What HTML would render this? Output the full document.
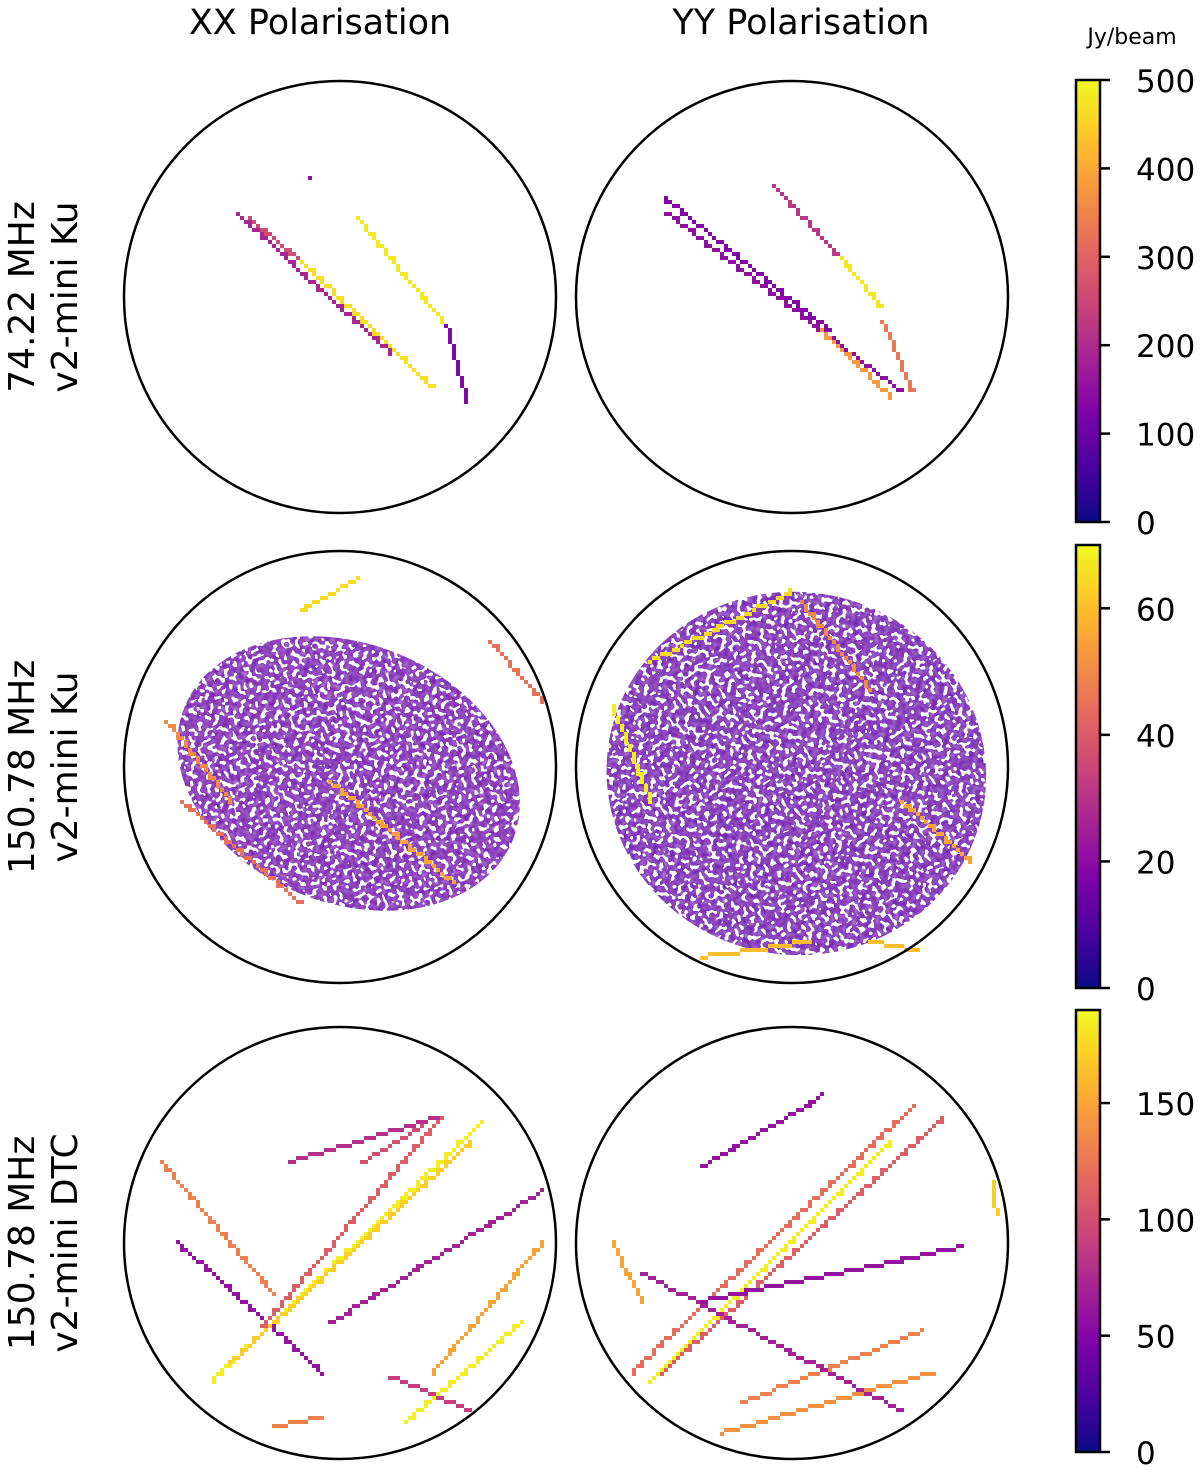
<!DOCTYPE html>
<html><head><meta charset="utf-8">
<style>
html,body{margin:0;padding:0;background:#fff;}
svg{display:block;font-family:"DejaVu Sans","Liberation Sans",sans-serif;}
</style></head>
<body>
<svg id="fig" width="1200" height="1471" viewBox="0 0 1200 1471" xmlns="http://www.w3.org/2000/svg">
<defs>
<linearGradient id="plasma" x1="0" y1="1" x2="0" y2="0">
<stop offset="0" stop-color="#0d0887"/><stop offset="0.125" stop-color="#4c02a1"/>
<stop offset="0.25" stop-color="#7e03a8"/><stop offset="0.375" stop-color="#a92395"/>
<stop offset="0.5" stop-color="#cc4778"/><stop offset="0.625" stop-color="#e56b5d"/>
<stop offset="0.75" stop-color="#f89540"/><stop offset="0.875" stop-color="#fdc527"/>
<stop offset="1" stop-color="#f0f921"/></linearGradient>
<filter id="noise" x="0" y="0" width="100%" height="100%">
<feTurbulence type="fractalNoise" baseFrequency="0.22" numOctaves="1" seed="3"/>
<feComponentTransfer><feFuncA type="discrete" tableValues="0 0 0 1 1 1 1"/></feComponentTransfer>
</filter>
<mask id="noiseMask"><rect x="0" y="0" width="1200" height="1471" fill="#fff" filter="url(#noise)"/></mask>
</defs>
<text x="320" y="34" font-size="35" text-anchor="middle">XX Polarisation</text>
<text x="801" y="34" font-size="35" text-anchor="middle">YY Polarisation</text>
<text x="1132" y="44" font-size="22" text-anchor="middle">Jy/beam</text>
<g id="panels"></g>
<g id="cbars"></g>
</svg>
<script>
// ---- data: tracks [l0, m0, l1, m1, value] in direction-cosine coordinates ----
const rowLabels = [["74.22 MHz","v2-mini Ku"],["150.78 MHz","v2-mini Ku"],["150.78 MHz","v2-mini DTC"]];
const rowMax = [500, 70, 190];
const cbarTicks0 = [0,100,200,300,400,500];
const cbarTicks1 = [0,20,40,60];
const cbarTicks2 = [0,50,100,150];
const tracksR1XX = [[-0.43,0.37,-0.19,0.18,260],[-0.19,0.18,0.42,-0.41,470],[-0.49,0.40,0.23,-0.25,190],[0.07,0.38,0.49,-0.13,480],[0.49,-0.13,0.58,-0.48,130],[-0.14,0.56,-0.14,0.56,150]];
const tracksR1YY = [[-0.60,0.47,0.17,-0.15,130],[-0.59,0.40,0.50,-0.43,150],[-0.09,0.52,0.22,0.19,220],[0.22,0.19,0.41,-0.04,480],[0.13,-0.15,0.45,-0.45,380],[0.41,-0.10,0.55,-0.43,330]];
const tracksR2XX = [[-0.19,0.73,0.07,0.88,65],[-0.81,0.22,-0.51,-0.15,50],[-0.05,-0.06,0.51,-0.52,55],[-0.74,-0.15,-0.19,-0.62,45],[0.69,0.59,0.93,0.31,45]];
const tracksR2YY = [[-0.84,0.29,-0.66,-0.15,68],[-0.66,0.50,-0.01,0.82,65],[0.04,0.77,0.36,0.36,50],[-0.43,-0.87,0.08,-0.80,60],[0.36,-0.80,0.57,-0.84,60],[0.50,-0.15,0.82,-0.43,55]];
const tracksR3XX = [[-0.83,0.38,-0.32,-0.22,130],[-0.76,0.01,-0.09,-0.59,60],[-0.60,-0.63,0.65,0.57,185],[-0.51,-0.54,0.60,0.48,170],[-0.37,-0.38,0.46,0.59,110],[0.09,0.38,0.37,0.55,100],[-0.05,-0.36,0.93,0.25,70],[0.30,-0.82,0.83,-0.36,185],[0.42,-0.59,0.93,0.01,150],[0.23,-0.61,0.60,-0.77,90],[-0.32,-0.84,-0.09,-0.80,130],[-0.25,0.38,0.44,0.59,80]];
const tracksR3YY = [[-0.75,-0.59,0.55,0.64,120],[-0.66,-0.63,0.45,0.48,185],[-0.61,-0.59,0.69,0.59,110],[-0.43,0.36,0.13,0.69,60],[-0.33,-0.87,0.64,-0.59,140],[-0.24,-0.73,0.59,-0.40,130],[-0.70,-0.13,0.50,-0.77,70],[-0.43,-0.26,0.78,-0.01,60],[-0.84,0.01,-0.70,-0.26,150],[0.92,0.29,0.94,0.15,170]];
// diffuse emission clouds: [l, m, radius-l, radius-m, rotation-deg, value]
const cloudR2XX = [0.04,-0.03,0.82,0.6,22,13];
const cloudR2YY = [0.02,-0.03,0.88,0.84,10,12];

const NS="http://www.w3.org/2000/svg";
const colX=[340,792], rowY=[297,767,1243], R=216, PIX=4;
const cbTop=[80,545,1010], cbBot=[522,988,1452], cbX=1076, cbW=24;
const tracks=[[tracksR1XX,tracksR1YY],[tracksR2XX,tracksR2YY],[tracksR3XX,tracksR3YY]];
const clouds=[[null,null],[cloudR2XX,cloudR2YY],[null,null]];
const ticks=[cbarTicks0,cbarTicks1,cbarTicks2];
const stops=[[13,8,135],[76,2,161],[126,3,168],[169,35,149],[204,71,120],[229,107,93],[248,149,64],[253,197,39],[240,249,33]];
function plasma(t){t=Math.max(0,Math.min(1,t))*8;const i=Math.min(7,Math.floor(t)),f=t-i;const a=stops[i],b=stops[i+1];
return `rgb(${Math.round(a[0]+(b[0]-a[0])*f)},${Math.round(a[1]+(b[1]-a[1])*f)},${Math.round(a[2]+(b[2]-a[2])*f)})`;}
function xs(c,l){return colX[c]+l*R;}
function ys(r,m){return rowY[r]-m*R;}
function mk(tag,attrs,parent){const e=document.createElementNS(NS,tag);for(const k in attrs)e.setAttribute(k,attrs[k]);parent.appendChild(e);return e;}
const panels=document.getElementById('panels');
for(let r=0;r<3;r++){
  const lab=mk('text',{transform:`translate(0,${rowY[r]}) rotate(-90)`,'font-size':36,'text-anchor':'middle'},panels);
  
  
  const t1=mk('tspan',{x:0,y:34},lab);t1.textContent=rowLabels[r][0];
  const t2=mk('tspan',{x:0,y:77},lab);t2.textContent=rowLabels[r][1];
  for(let c=0;c<2;c++){
    const g=mk('g',{},panels);
    
    
    const cl=clouds[r][c];
    if(cl){
      const e=mk('ellipse',{cx:xs(c,cl[0]),cy:ys(r,cl[1]),rx:cl[2]*R,ry:cl[3]*R,transform:`rotate(${cl[4]} ${xs(c,cl[0])} ${ys(r,cl[1])})`,fill:plasma(cl[5]/rowMax[r]),mask:'url(#noiseMask)'},g);
      
      
    }
    for(const tr of tracks[r][c]){
      const x0=xs(c,tr[0]),y0=ys(r,tr[1]),x1=xs(c,tr[2]),y1=ys(r,tr[3]);
      const n=Math.max(1,Math.round(Math.hypot(x1-x0,y1-y0)/PIX));
      const tg=mk('g',{fill:plasma(tr[4]/rowMax[r])},g);
      
      
      for(let i=0;i<=n;i++){
        const x=Math.round((x0+(x1-x0)*i/n)/PIX)*PIX, y=Math.round((y0+(y1-y0)*i/n)/PIX)*PIX;
        mk('rect',{x:x,y:y,width:PIX,height:PIX},tg);
      }
    }
    const circ=mk('circle',{cx:colX[c],cy:rowY[r],r:R,fill:'none',stroke:'#000','stroke-width':2.5},g);
    
    
  }
  const cb=document.getElementById('cbars');
  const cg=mk('g',{},cb);
  
  
  mk('rect',{x:cbX,y:cbTop[r],width:cbW,height:cbBot[r]-cbTop[r],fill:'url(#plasma)',stroke:'#000','stroke-width':2.5},cg);
  for(const v of ticks[r]){
    const y=cbBot[r]-(v/rowMax[r])*(cbBot[r]-cbTop[r]);
    mk('line',{x1:cbX+cbW,x2:cbX+cbW+10,y1:y,y2:y,stroke:'#000','stroke-width':2.5},cg);
    const tl=mk('text',{x:cbX+cbW+36,y:y+12,'font-size':31},cg);
    
    
    tl.textContent=v;
  }
}
</script>
</body></html>
